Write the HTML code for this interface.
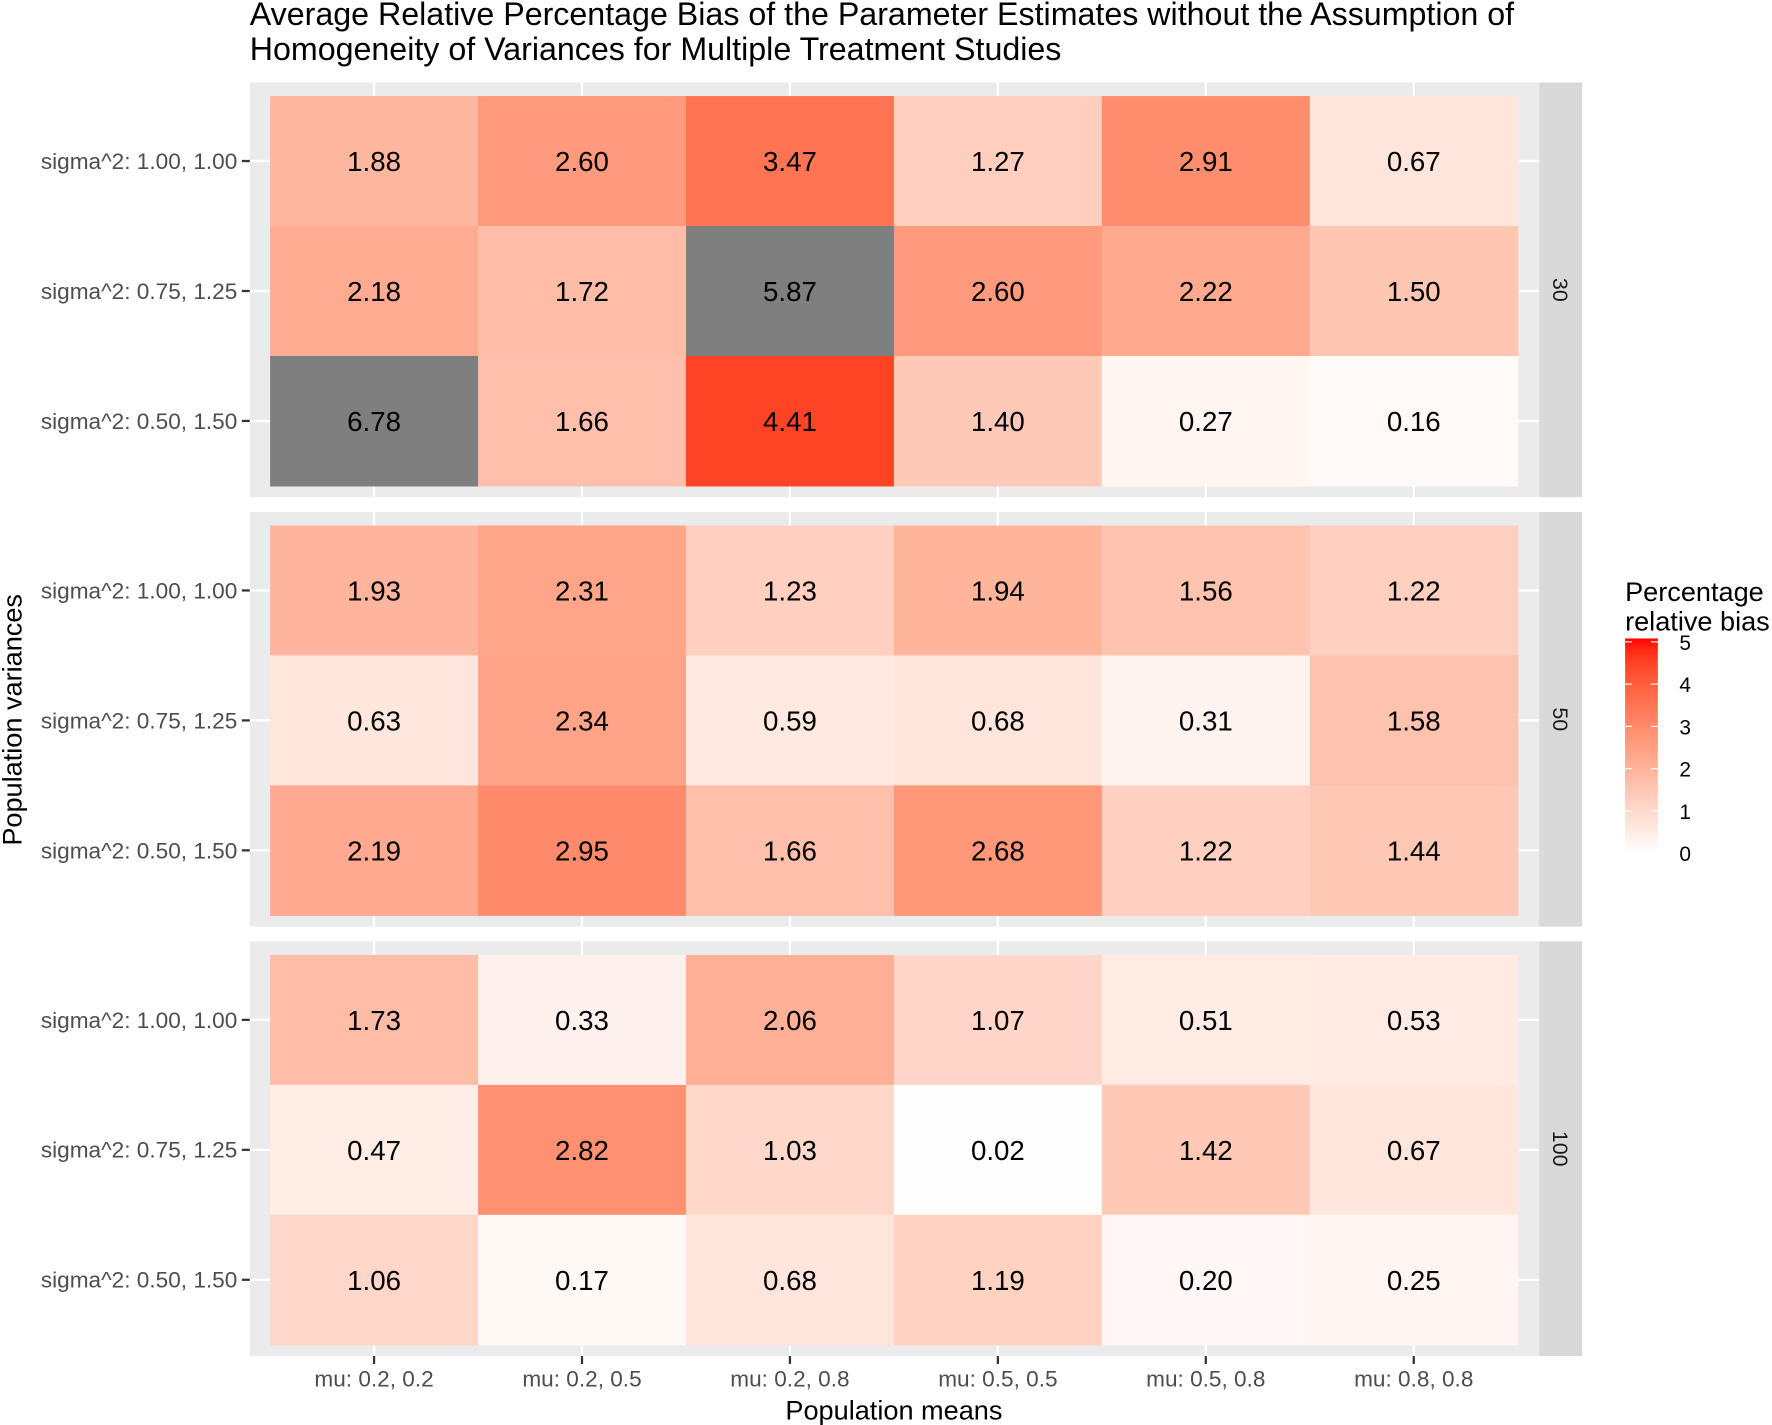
<!DOCTYPE html>
<html><head><meta charset="utf-8"><style>
html,body{margin:0;padding:0;background:#fff}
svg{display:block;font-family:"Liberation Sans",sans-serif}
</style></head><body>
<svg id="chart" width="1772" height="1425" viewBox="0 0 1568 1261" preserveAspectRatio="none" xmlns="http://www.w3.org/2000/svg">
<text x="221" y="22" font-size="28.5" fill="#000">Average Relative Percentage Bias of the Parameter Estimates without the Assumption of</text>
<text x="221" y="53" font-size="28.5" fill="#000">Homogeneity of Variances for Multiple Treatment Studies</text>
<g id="panels"></g>
<text x="791" y="1256" font-size="24" text-anchor="middle" fill="#000">Population means</text>
<text transform="translate(19,637) rotate(-90)" font-size="24" text-anchor="middle" fill="#000">Population variances</text>
<g id="legend"></g>
</svg>
<script>
const xCategories = ["mu: 0.2, 0.2","mu: 0.2, 0.5","mu: 0.2, 0.8","mu: 0.5, 0.5","mu: 0.5, 0.8","mu: 0.8, 0.8"];
const yCategories = ["sigma^2: 1.00, 1.00","sigma^2: 0.75, 1.25","sigma^2: 0.50, 1.50"];
const facets = ["30","50","100"];
const values30 = [[1.88,2.60,3.47,1.27,2.91,0.67],[2.18,1.72,5.87,2.60,2.22,1.50],[6.78,1.66,4.41,1.40,0.27,0.16]];
const values50 = [[1.93,2.31,1.23,1.94,1.56,1.22],[0.63,2.34,0.59,0.68,0.31,1.58],[2.19,2.95,1.66,2.68,1.22,1.44]];
const values100 = [[1.73,0.33,2.06,1.07,0.51,0.53],[0.47,2.82,1.03,0.02,1.42,0.67],[1.06,0.17,0.68,1.19,0.20,0.25]];
const legendTicks = [0,1,2,3,4,5];
const fillMax = 5;

const NS="http://www.w3.org/2000/svg";
function mk(tag,attrs,parent){const e=document.createElementNS(NS,tag);for(const k in attrs)e.setAttribute(k,attrs[k]);parent.appendChild(e);return e;}
function lab2rgb(L,a,b){let y=(L+16)/116,x=a/500+y,z=y-b/200;
 const f=t=>t*t*t>0.008856?t*t*t:(t-16/116)/7.787;
 x=0.95047*f(x);y=1*f(y);z=1.08883*f(z);
 let r=x*3.2406+y*-1.5372+z*-0.4986,g=x*-0.9689+y*1.8758+z*0.0415,bb=x*0.0557+y*-0.2040+z*1.0570;
 const c=v=>{v=v>0.0031308?1.055*Math.pow(v,1/2.4)-0.055:12.92*v;return Math.round(Math.max(0,Math.min(1,v))*255)};
 return `rgb(${c(r)},${c(g)},${c(bb)})`;}
function fillColor(v){if(v>fillMax)return "#7F7F7F";const t=Math.max(0,v)/fillMax;return lab2rgb(100+(53.24-100)*t,80.09*t,67.20*t);}

const tileX0=239,tileW=184,tileH=115;
const xScale=i=>tileX0+i*tileW;
const panelTops=[73,453,833];
const allValues=[values30,values50,values100];
const g=document.getElementById('panels');
facets.forEach((f,p)=>{
 const top=panelTops[p];
 const pg=mk('g',{},g);
 
 
 const bg=mk('rect',{x:221,y:top,width:1141,height:367,fill:'#EBEBEB'},pg);
 
 
 const yScale=r=>top+12+r*tileH;
 xCategories.forEach((c,i)=>{const gl=mk('line',{x1:xScale(i)+tileW/2,x2:xScale(i)+tileW/2,y1:top,y2:top+367,stroke:'#fff','stroke-width':2},pg);
  
  });
 yCategories.forEach((c,r)=>{const cy=yScale(r)+tileH/2;
  const gl=mk('line',{x1:221,x2:1362,y1:cy,y2:cy,stroke:'#fff','stroke-width':2},pg);
  
  
  const tk=mk('line',{x1:214,x2:221,y1:cy,y2:cy,stroke:'#333','stroke-width':2},pg);
  
  
  const tl=mk('text',{x:210,y:cy+7,'font-size':20,'text-anchor':'end',fill:'#4D4D4D'},pg);tl.textContent=c;
  
  });
 allValues[p].forEach((row,r)=>row.forEach((v,i)=>{
  const rc=mk('rect',{x:xScale(i),y:yScale(r),width:tileW+0.5,height:tileH+0.5,fill:fillColor(v)},pg);
  
  
  const t=mk('text',{x:xScale(i)+tileW/2,y:yScale(r)+tileH/2+9,'font-size':24.5,'text-anchor':'middle',fill:'#000'},pg);t.textContent=v.toFixed(2);
  
  }));
 const st=mk('rect',{x:1362,y:top,width:38,height:367,fill:'#D9D9D9'},pg);
 
 
 const stt=mk('text',{transform:`translate(1374,${top+183.5}) rotate(90)`,'font-size':19,'text-anchor':'middle',fill:'#1A1A1A'},pg);stt.textContent=f;
 
 
});
xCategories.forEach((c,i)=>{const cx=xScale(i)+tileW/2;
 const tk=mk('line',{x1:cx,x2:cx,y1:1200,y2:1207,stroke:'#333','stroke-width':2},g);
 
 
 const tl=mk('text',{x:cx,y:1227,'font-size':20,'text-anchor':'middle',fill:'#4D4D4D'},g);tl.textContent=c;
 
 });
const L=document.getElementById('legend');
const lt1=mk('text',{x:1438,y:532,'font-size':24,fill:'#000'},L);lt1.textContent='Percentage';


const lt2=mk('text',{x:1438,y:558,'font-size':24,fill:'#000'},L);lt2.textContent='relative bias';


const barX=1438,barW=29,y5=568,y0=755;
const legY=v=>y0-(v/fillMax)*(y0-y5);
const defs=mk('defs',{},L);const lg=mk('linearGradient',{id:'lg',x1:0,y1:1,x2:0,y2:0},defs);
for(let k=0;k<=20;k++){mk('stop',{offset:(k/20),'stop-color':fillColor(k/20*fillMax)},lg);}
const bar=mk('rect',{x:barX,y:legY(fillMax)-3,width:barW,height:y0-legY(fillMax)+3,fill:'url(#lg)'},L);


legendTicks.forEach(v=>{const y=legY(v);
 if(v>0){mk('line',{x1:barX,x2:barX+6,y1:y,y2:y,stroke:'#fff','stroke-width':1},L);mk('line',{x1:barX+barW-6,x2:barX+barW,y1:y,y2:y,stroke:'#fff','stroke-width':1},L);}
 const t=mk('text',{x:1486,y:y+7,'font-size':18.5,fill:'#000'},L);t.textContent=v;
 
 });
</script>
</body></html>
